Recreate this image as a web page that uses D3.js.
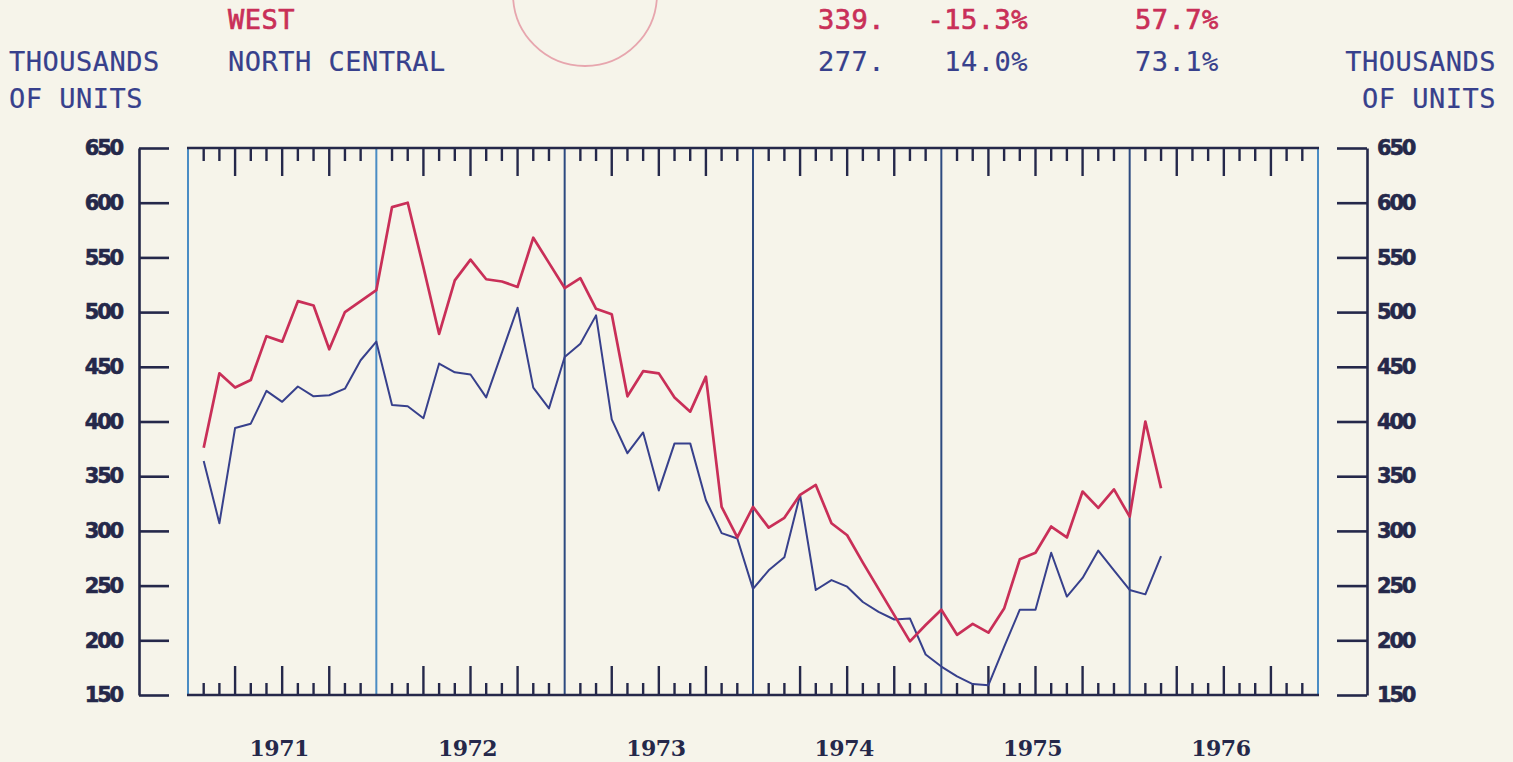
<!DOCTYPE html>
<html>
<head>
<meta charset="utf-8">
<script src="https://cdn.jsdelivr.net/npm/d3@7"></script>
<style>
    body { margin: 0; background: #f6f4ea; }
    svg { display: block; }
</style>
</head>
<body>
<div id="chart"></div>
<script>
let year_labels = ['1971', '1972', '1973', '1974', '1975', '1976'];
let y_tick_values = [150, 200, 250, 300, 350, 400, 450, 500, 550, 600, 650];

// monthly values, Jan 1971 .. Feb 1976 (thousands of units)
let west_values = [
    376, 444, 431, 438, 478, 473, 510, 506, 466, 500, 510, 520,
    596, 600, 541, 480, 529, 548, 530, 528, 523, 568, 545, 522,
    531, 503, 498, 423, 446, 444, 422, 409, 441, 322, 294, 322,
    303, 312, 333, 342, 307, 296, 271, 247, 223, 199, 214, 228,
    205, 215, 207, 229, 274, 280, 304, 294, 336, 321, 338, 313,
    400, 339
];
let north_central_values = [
    364, 307, 394, 398, 428, 418, 432, 423, 424, 430, 456, 473,
    415, 414, 403, 453, 445, 443, 422, 463, 504, 431, 412, 459,
    471, 497, 402, 371, 390, 337, 380, 380, 328, 298, 293, 247,
    264, 276, 333, 246, 255, 249, 235, 226, 219, 220, 187, 176,
    167, 160, 159, 194, 228, 228, 280, 240, 257, 282, 264, 246,
    242, 277
];

let series_names = ['WEST', 'NORTH CENTRAL'];
let last_values = ['339.', '277.'];
let month_changes = ['-15.3%', '14.0%'];
let year_changes = ['57.7%', '73.1%'];
let unit_label_lines = ['THOUSANDS', 'OF UNITS'];

let color_west = '#c92f58';
let color_north_central = '#37408c';
let color_axis = '#25284a';
let color_divider = '#2d4a80';
let color_divider_light = '#4a8cc4';

let width = 1513, height = 762;
let plot = {left: 188, right: 1318, top: 148, bottom: 695};

let svg = d3.select('#chart').append('svg')
    .attr('width', width)
    .attr('height', height)
    .style('background', '#f6f4ea');

// month boundaries: 0 = start of 1971, 72 = end of 1976
let x = d3.scaleLinear().domain([0, 72]).range([plot.left, plot.right]);
let y = d3.scaleLinear().domain([150, 650]).range([plot.bottom, plot.top]);

function draw_stamp() {
    svg.append('circle')
        .attr('cx', 585).attr('cy', -6).attr('r', 72)
        .attr('fill', 'none')
        .attr('stroke', '#e7a6ae')
        .attr('stroke-width', 1.8);
}

function draw_header() {
    let header = svg.append('g')
        .style('font-family', '"DejaVu Sans Mono", "Liberation Mono", monospace')
        .style('font-size', '27px')
        .style('letter-spacing', '0.5px');

    let rows = [29, 71];
    let colors = [color_west, color_north_central];

    series_names.forEach(function (name, i) {
        let row = header.append('g')
            .attr('fill', colors[i])
            .attr('stroke', colors[i])
            .attr('stroke-width', i === 0 ? 0.7 : 0.2);
        row.append('text').attr('x', 818).attr('y', rows[i]).text(last_values[i]);
        row.append('text').attr('x', 228).attr('y', rows[i]).text(name);
        row.append('text').attr('x', 1028).attr('y', rows[i]).attr('text-anchor', 'end').text(month_changes[i]);
        row.append('text').attr('x', 1135).attr('y', rows[i]).text(year_changes[i]);
    });

    unit_label_lines.forEach(function (line, i) {
        let g = header.append('g').attr('fill', color_north_central)
            .attr('stroke', color_north_central).attr('stroke-width', 0.2);
        g.append('text').attr('x', 9).attr('y', 71 + i * 37).text(line);
        g.append('text').attr('x', 1496).attr('y', 71 + i * 37).attr('text-anchor', 'end').text(line);
    });
}

function draw_y_axes() {
    let left_axis = d3.axisLeft(y).tickValues(y_tick_values).tickSize(-30).tickSizeOuter(0).tickPadding(17);
    let right_axis = d3.axisRight(y).tickValues(y_tick_values).tickSize(-30).tickSizeOuter(0).tickPadding(10);

    [[left_axis, 139], [right_axis, 1367]].forEach(function (a) {
        let g = svg.append('g').attr('transform', 'translate(' + a[1] + ',0)').call(a[0]);
        g.selectAll('path, line').attr('stroke', color_axis).attr('stroke-width', 2.6);
        g.selectAll('text')
            .attr('fill', color_axis)
            .attr('stroke', color_axis)
            .attr('stroke-width', 0.6)
            .style('font-family', '"DejaVu Sans", sans-serif')
            .style('font-weight', 'bold')
            .style('font-size', '21px')
            .style('letter-spacing', '-2.2px');
    });
}

function draw_frame() {
    let frame = svg.append('g');

    // year dividers, incl. left/right frame edges
    let boundaries = d3.range(0, 73, 12);
    frame.selectAll('.divider').data(boundaries).enter().append('line')
        .attr('class', 'divider')
        .attr('x1', d => x(d)).attr('x2', d => x(d))
        .attr('y1', plot.top).attr('y2', plot.bottom)
        .attr('stroke', d => (d === 0 || d === 12 || d === 72) ? color_divider_light : color_divider)
        .attr('stroke-width', 2);

    frame.selectAll('.hline').data([plot.top, plot.bottom]).enter().append('line')
        .attr('class', 'hline')
        .attr('x1', plot.left - 1).attr('x2', plot.right + 1)
        .attr('y1', d => d).attr('y2', d => d)
        .attr('stroke', color_axis).attr('stroke-width', 2.6);

    let month_ticks = d3.range(1, 72).filter(m => m % 12 !== 0);

    frame.selectAll('.top_tick').data(month_ticks).enter().append('line')
        .attr('class', 'top_tick')
        .attr('x1', d => x(d)).attr('x2', d => x(d))
        .attr('y1', plot.top).attr('y2', d => plot.top + (d % 3 === 0 ? 28 : 13))
        .attr('stroke', color_axis).attr('stroke-width', 2.4);

    frame.selectAll('.bottom_tick').data(month_ticks).enter().append('line')
        .attr('class', 'bottom_tick')
        .attr('x1', d => x(d)).attr('x2', d => x(d))
        .attr('y1', plot.bottom).attr('y2', d => plot.bottom - (d % 3 === 0 ? 29 : 12))
        .attr('stroke', color_axis).attr('stroke-width', 2.4);

    frame.selectAll('.year_label').data(year_labels).enter().append('text')
        .attr('class', 'year_label')
        .attr('x', (d, i) => x(i * 12 + 6) - 3)
        .attr('y', 756)
        .attr('text-anchor', 'middle')
        .attr('fill', color_axis)
        .style('font-family', '"DejaVu Serif", serif')
        .style('font-weight', 'bold')
        .style('font-size', '22px')
        .style('letter-spacing', '-0.5px')
        .text(d => d);
}

function draw_series(values, color, stroke_width) {
    // each value is plotted at the end of its month
    let line = d3.line()
        .x((d, i) => x(i + 1))
        .y(d => y(d));

    svg.append('path')
        .datum(values)
        .attr('d', line)
        .attr('fill', 'none')
        .attr('stroke', color)
        .attr('stroke-width', stroke_width)
        .attr('stroke-linejoin', 'round');
}

draw_stamp();
draw_header();
draw_y_axes();
draw_frame();
draw_series(north_central_values, color_north_central, 2);
draw_series(west_values, color_west, 2.7);
</script>
</body>
</html>
